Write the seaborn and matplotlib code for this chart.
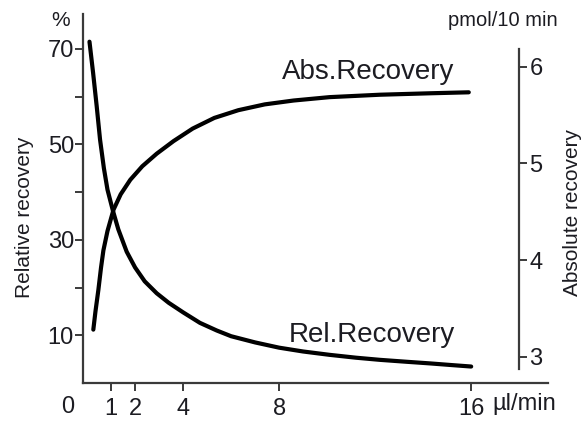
import numpy as np
import pandas as pd
import matplotlib
matplotlib.use("Agg")
import matplotlib.pyplot as plt
import seaborn as sns

# Flow rate (µl/min) and relative recovery (%)
rel_flow = [0.1, 0.25, 0.4, 0.54, 0.7, 0.85, 1.07, 1.3, 1.65, 2.0, 2.4, 2.9, 3.4,
            4.0, 4.7, 5.4, 6.0, 7.0, 8.0, 9.0, 10.1, 11.2, 12.2, 13.3, 14.3, 15.2, 16.0]
rel_recovery = [71.5, 65.0, 58.0, 51.0, 45.0, 40.5, 36.2, 32.2, 27.5, 24.2, 21.3, 18.8, 16.8,
                14.8, 12.6, 11.0, 9.8, 8.5, 7.4, 6.6, 5.9, 5.3, 4.85, 4.45, 4.1, 3.75, 3.45]

# Flow rate (µl/min) and absolute recovery (pmol/10 min)
abs_flow = [0.26, 0.35, 0.47, 0.58, 0.68, 0.85, 1.1, 1.4, 1.8, 2.3, 2.9, 3.6, 4.4,
            5.3, 6.3, 7.4, 8.6, 10.1, 12.2, 14.3, 15.9]
abs_recovery = [3.28, 3.47, 3.69, 3.92, 4.10, 4.30, 4.52, 4.68, 4.83, 4.97, 5.10, 5.23, 5.36,
                5.47, 5.55, 5.61, 5.65, 5.685, 5.71, 5.725, 5.735]

x_ticks = [1, 2, 4, 8, 16]
rel_major_ticks = [10, 30, 50, 70]
rel_minor_ticks = [20, 40, 60]
abs_ticks = [3, 4, 5, 6]

sns.set_theme(style="ticks")
plt.rcParams["font.family"] = ["Liberation Sans", "DejaVu Sans"]

TEXT = "#1c1c22"
AXC = "#3a3a3a"

fig = plt.figure(figsize=(5.88, 4.21), dpi=100)
W, H = 588, 421
ax = fig.add_axes([83 / W, 1 - 383 / H, (548 - 83) / W, (383 - 14) / H])
ax2 = ax.twinx()

rel_df = pd.DataFrame({"flow": rel_flow, "rel": rel_recovery})
abs_df = pd.DataFrame({"flow": abs_flow, "abs": abs_recovery})

sns.lineplot(data=rel_df, x="flow", y="rel", ax=ax, color="black", lw=3.0,
             sort=True, estimator=None, solid_capstyle="round", solid_joinstyle="round")
sns.lineplot(data=abs_df, x="flow", y="abs", ax=ax2, color="black", lw=3.0,
             sort=True, estimator=None, solid_capstyle="round", solid_joinstyle="round")

ax.set_xlim(-0.17, 19.2)
ax.set_ylim(0, 77.3)
ax2.set_ylim(2.728, 6.545)

# left / bottom axes
for s in ["top", "right"]:
    ax.spines[s].set_visible(False)
for s in ["left", "bottom"]:
    ax.spines[s].set_color(AXC)
    ax.spines[s].set_linewidth(1.6)

ax.set_xticks(x_ticks)
ax.set_xticklabels([str(t) for t in x_ticks])
ax.set_yticks(rel_major_ticks)
ax.set_yticklabels([str(t) for t in rel_major_ticks])
ax.set_yticks(rel_minor_ticks, minor=True)
ax.tick_params(axis="both", which="both", direction="out", length=5.5, width=1.4,
               color=AXC, labelcolor=TEXT, labelsize=17)
ax.tick_params(axis="y", which="both", pad=1)
ax.tick_params(axis="x", which="both", pad=5)
ax.set_xlabel("")
ax.set_ylabel("")

# right axis drawn inside the plotting area
for s in ["top", "left", "bottom"]:
    ax2.spines[s].set_visible(False)
ax2.spines["right"].set_position(("axes", (519 - 83) / (548 - 83)))
ax2.spines["right"].set_bounds(2.876, 6.18)
ax2.spines["right"].set_color(AXC)
ax2.spines["right"].set_linewidth(1.6)
ax2.set_yticks(abs_ticks)
ax2.set_yticklabels([str(t) for t in abs_ticks])
ax2.tick_params(axis="y", direction="out", length=5.5, width=1.4, color=AXC,
                labelcolor=TEXT, labelsize=17, pad=2)
ax2.set_ylabel("")
ax2.grid(False)
ax.grid(False)

# curve labels
ax.text(8.1, 65.1, "Abs.Recovery", fontsize=20, color=TEXT, ha="left", va="center")
ax.text(8.4, 10.0, "Rel.Recovery", fontsize=20, color=TEXT, ha="left", va="center")

# origin label and units
fig.text(68 / W, 1 - 407 / H, "0", fontsize=17, color=TEXT, ha="center", va="center")
fig.text(492 / W, 1 - 404 / H, "µl/min", fontsize=17, color=TEXT, ha="left", va="center")
fig.text(61 / W, 1 - 21 / H, "%", fontsize=15, color=TEXT, ha="center", va="center")
fig.text(503 / W, 1 - 20 / H, "pmol/10 min", fontsize=14.5, color=TEXT, ha="center", va="center")

# axis titles
fig.text(25 / W, 1 - 217 / H, "Relative recovery", fontsize=15, color=TEXT,
         rotation=90, ha="center", va="center")
fig.text(573 / W, 1 - 213 / H, "Absolute recovery", fontsize=15, color=TEXT,
         rotation=90, ha="center", va="center")

fig.savefig("out.png", dpi=100)
